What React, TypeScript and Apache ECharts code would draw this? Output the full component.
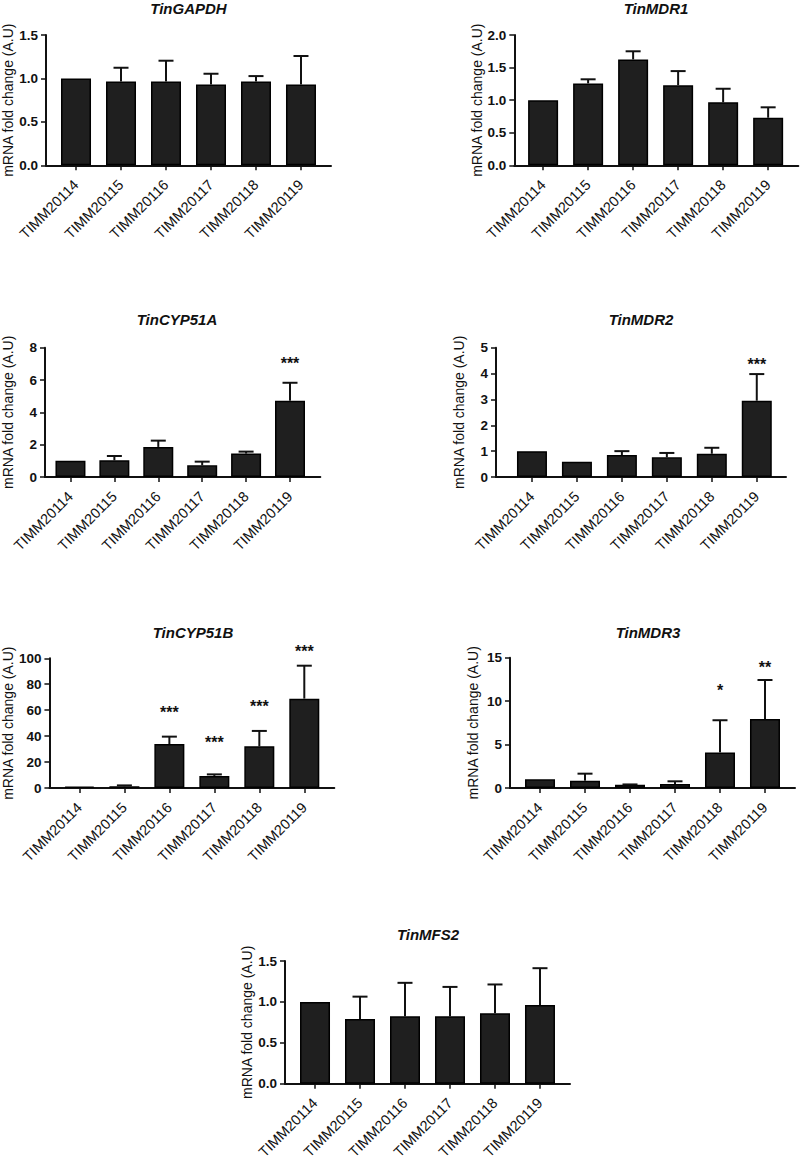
import React, { useEffect, useRef } from "react";
import * as echarts from "echarts";

const categories = ["TIMM20114", "TIMM20115", "TIMM20116", "TIMM20117", "TIMM20118", "TIMM20119"];
const yAxisName = "mRNA fold change (A.U)";

const gapdhMean = [1.0, 0.965, 0.965, 0.93, 0.965, 0.93];
const gapdhErr = [0, 0.158, 0.239, 0.124, 0.062, 0.328];
const mdr1Mean = [1.0, 1.257, 1.625, 1.23, 0.966, 0.73];
const mdr1Err = [0, 0.063, 0.125, 0.216, 0.209, 0.16];
const cyp51aMean = [1.0, 1.03, 1.86, 0.72, 1.45, 4.72];
const cyp51aErr = [0, 0.27, 0.39, 0.23, 0.12, 1.11];
const mdr2Mean = [1.0, 0.59, 0.85, 0.76, 0.9, 2.95];
const mdr2Err = [0, 0, 0.15, 0.17, 0.23, 1.03];
const cyp51bMean = [1.0, 1.3, 33.9, 9.3, 32.1, 68.9];
const cyp51bErr = [0, 0.7, 5.7, 1.2, 11.9, 25.4];
const mdr3Mean = [1.0, 0.84, 0.38, 0.46, 4.1, 7.94];
const mdr3Err = [0, 0.81, 0.03, 0.31, 3.7, 4.49];
const mfs2Mean = [1.0, 0.79, 0.823, 0.823, 0.861, 0.961];
const mfs2Err = [0, 0.274, 0.41, 0.36, 0.352, 0.451];

// significance marks: category index, level (axis units), label
const cyp51aSig: [number, number, string][] = [[5, 7.24, "***"]];
const mdr2Sig: [number, number, string][] = [[5, 4.52, "***"]];
const cyp51bSig: [number, number, string][] = [
  [2, 61.4, "***"],
  [3, 38.3, "***"],
  [4, 66.3, "***"],
  [5, 108.4, "***"],
];
const mdr3Sig: [number, number, string][] = [
  [4, 11.66, "*"],
  [5, 14.35, "**"],
];

const panels = [
  { name: "TinGAPDH", mean: gapdhMean, err: gapdhErr, sig: [] as [number, number, string][], yMax: 1.5, yStep: 0.5, dec: 1 },
  { name: "TinMDR1", mean: mdr1Mean, err: mdr1Err, sig: [] as [number, number, string][], yMax: 2.0, yStep: 0.5, dec: 1 },
  { name: "TinCYP51A", mean: cyp51aMean, err: cyp51aErr, sig: cyp51aSig, yMax: 8, yStep: 2, dec: 0 },
  { name: "TinMDR2", mean: mdr2Mean, err: mdr2Err, sig: mdr2Sig, yMax: 5, yStep: 1, dec: 0 },
  { name: "TinCYP51B", mean: cyp51bMean, err: cyp51bErr, sig: cyp51bSig, yMax: 100, yStep: 20, dec: 0 },
  { name: "TinMDR3", mean: mdr3Mean, err: mdr3Err, sig: mdr3Sig, yMax: 15, yStep: 5, dec: 0 },
  { name: "TinMFS2", mean: mfs2Mean, err: mfs2Err, sig: [] as [number, number, string][], yMax: 1.5, yStep: 0.5, dec: 1 },
];

// layout (pixels) for each panel
const layout = [
  { left: 46, top: 35, width: 285, height: 130.3, xMin: -0.667, xMax: 5.667, tx: 188.5, ty: 8.5 },
  { left: 514.3, top: 35, width: 284, height: 130.3, xMin: -0.64, xMax: 5.67, tx: 656, ty: 8.5 },
  { left: 38.3, top: 347.7, width: 282, height: 129.3, xMin: -0.58, xMax: 5.69, tx: 177, ty: 319 },
  { left: 496, top: 347.7, width: 290, height: 129.3, xMin: -0.8, xMax: 5.65, tx: 641, ty: 319 },
  { left: 49.3, top: 658.3, width: 285, height: 129.7, xMin: -0.667, xMax: 5.667, tx: 193, ty: 632 },
  { left: 510, top: 657.7, width: 285, height: 130.3, xMin: -0.667, xMax: 5.667, tx: 648, ty: 632 },
  { left: 285, top: 961, width: 285, height: 130.7, xMin: -0.667, xMax: 5.667, tx: 428, ty: 934 },
];

const FONT = "Liberation Sans, Arial, Helvetica, sans-serif";
const INK = "#111";
const tickIdx = categories.map((_, i) => i);

export default function App() {
  const ref = useRef<HTMLDivElement>(null);

  useEffect(() => {
    document.body.style.margin = "0";
    if (!ref.current) return;
    const chart = echarts.init(ref.current, undefined, { renderer: "svg" });

    const grid = layout.map((l) => ({ left: l.left, top: l.top, width: l.width, height: l.height }));

    const xAxis = panels.map((p, i) => ({
      gridIndex: i,
      type: "value",
      min: layout[i].xMin,
      max: layout[i].xMax,
      axisLine: { show: true, onZero: false, lineStyle: { color: INK, width: 2 } },
      axisTick: { show: true, customValues: tickIdx, length: 5, lineStyle: { color: INK, width: 1.5 } },
      axisLabel: {
        customValues: tickIdx,
        rotate: 45,
        margin: 17,
        formatter: (v: number) => categories[Math.round(v)] ?? "",
        fontSize: 14.5,
        color: INK,
        fontFamily: FONT,
      },
      splitLine: { show: false },
    }));

    const yAxis = panels.map((p, i) => ({
      gridIndex: i,
      type: "value",
      min: 0,
      max: p.yMax,
      interval: p.yStep,
      name: yAxisName,
      nameLocation: "middle",
      nameGap: 30,
      nameTextStyle: { fontSize: 14, color: INK, fontFamily: FONT },
      axisLine: { show: true, onZero: false, lineStyle: { color: INK, width: 2 } },
      axisTick: { show: true, length: 5, lineStyle: { color: INK, width: 1.5 } },
      axisLabel: {
        formatter: (v: number) => v.toFixed(p.dec),
        fontSize: 13.5,
        fontWeight: "bold",
        color: INK,
        fontFamily: FONT,
        margin: 8,
      },
      splitLine: { show: false },
    }));

    const series: any[] = [];
    panels.forEach((p, i) => {
      series.push({
        type: "bar",
        xAxisIndex: i,
        yAxisIndex: i,
        data: p.mean.map((v, j) => [j, v]),
        barWidth: 30,
        itemStyle: { color: "#1f1f1f", borderColor: "#000", borderWidth: 1.5 },
        silent: true,
      });
      series.push({
        type: "custom",
        xAxisIndex: i,
        yAxisIndex: i,
        z: 3,
        silent: true,
        data: p.mean.map((v, j) => [j, v, p.err[j]]),
        renderItem: (params: any, api: any) => {
          const x = api.value(0);
          const v = api.value(1);
          const e = api.value(2);
          if (!(e > 0)) return null;
          const base = api.coord([x, v]);
          const top = api.coord([x, v + e]);
          const st = { stroke: INK, lineWidth: 2 };
          return {
            type: "group",
            children: [
              { type: "line", shape: { x1: base[0], y1: base[1], x2: top[0], y2: top[1] }, style: st },
              { type: "line", shape: { x1: top[0] - 7.5, y1: top[1], x2: top[0] + 7.5, y2: top[1] }, style: st },
            ],
          };
        },
      });
      if (p.sig.length) {
        const labels = p.sig.map((s) => s[2]);
        series.push({
          type: "custom",
          xAxisIndex: i,
          yAxisIndex: i,
          z: 4,
          silent: true,
          clip: false,
          data: p.sig.map((s) => [s[0], s[1]]),
          renderItem: (params: any, api: any) => {
            const pt = api.coord([api.value(0), api.value(1)]);
            return {
              type: "text",
              x: pt[0],
              y: pt[1] + 4,
              style: {
                text: labels[params.dataIndex],
                fill: INK,
                fontSize: 16,
                fontWeight: "bold",
                fontFamily: FONT,
                align: "center",
                verticalAlign: "middle",
              },
            };
          },
        });
      }
    });

    const graphic = panels.map((p, i) => ({
      type: "text",
      x: layout[i].tx,
      y: layout[i].ty,
      style: {
        text: p.name,
        fill: INK,
        fontSize: 15,
        fontWeight: "bold",
        fontStyle: "italic",
        fontFamily: FONT,
        align: "center",
        verticalAlign: "middle",
      },
    }));

    chart.setOption({
      animation: false,
      backgroundColor: "#fff",
      grid,
      xAxis,
      yAxis,
      series,
      graphic,
    } as any);

    return () => chart.dispose();
  }, []);

  return <div ref={ref} style={{ width: 800, height: 1162 }} />;
}
